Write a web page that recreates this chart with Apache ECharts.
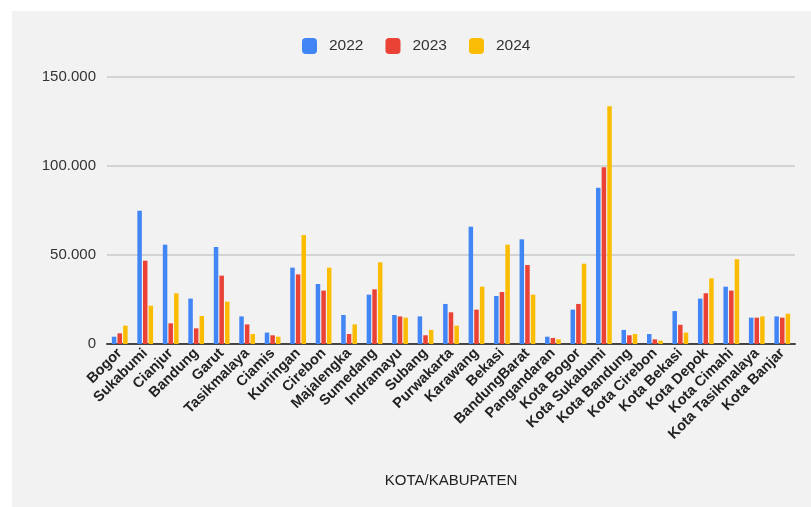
<!DOCTYPE html>
<html>
<head>
<meta charset="utf-8">
<script src="https://cdn.jsdelivr.net/npm/echarts@6/dist/echarts.min.js"></script>
<style>
  html, body { margin: 0; padding: 0; background: #fff; }
  #panel { position: absolute; left: 12px; top: 11px; width: 799px; height: 496px; background: #f2f2f2; }
  #chart { position: absolute; left: 0; top: 0; width: 811px; height: 507px; }
</style>
</head>
<body>
<div id="panel"></div>
<div id="chart"></div>
<script>
// kota / kabupaten
const categories = [
  "Bogor", "Sukabumi", "Cianjur", "Bandung", "Garut", "Tasikmalaya", "Ciamis",
  "Kuningan", "Cirebon", "Majalengka", "Sumedang", "Indramayu", "Subang",
  "Purwakarta", "Karawang", "Bekasi", "BandungBarat", "Pangandaran",
  "Kota Bogor", "Kota Sukabumi", "Kota Bandung", "Kota Cirebon", "Kota Bekasi",
  "Kota Depok", "Kota Cimahi", "Kota Tasikmalaya", "Kota Banjar"
];

const years = ["2022", "2023", "2024"];

const data2022 = [4100, 74900, 55800, 25500, 54500, 15500, 6400, 42900, 33700, 16300,
  27700, 16300, 15500, 22500, 65900, 27000, 58800, 4100, 19300, 87800, 7900, 5600,
  18500, 25500, 32200, 14800, 15500];
const data2023 = [6000, 46800, 11600, 8800, 38400, 11000, 4900, 39100, 30000, 5600,
  30700, 15500, 4900, 17800, 19300, 29200, 44400, 3400, 22500, 99300, 4900, 2600,
  10800, 28500, 30000, 14800, 14800];
const data2024 = [10300, 21500, 28500, 15700, 23800, 5600, 4100, 61200, 42900, 11000,
  45900, 14800, 7900, 10300, 32200, 55800, 27700, 2600, 45100, 133500, 5600, 1900,
  6400, 36900, 47600, 15500, 17000];

const colors = ["#4285f4", "#ea4335", "#fbbc04"];

function fmt(v) {
  return String(v).replace(/\B(?=(\d{3})+(?!\d))/g, ".");
}

const chart = echarts.init(document.getElementById("chart"));

const seriesData = [data2022, data2023, data2024];

chart.setOption({
  backgroundColor: "transparent",
  textStyle: { fontFamily: "Arial" },
  legend: {
    data: years,
    top: 33,
    left: 297,
    itemWidth: 15,
    itemHeight: 16,
    itemGap: 22,
    icon: "roundRect",
    textStyle: { fontSize: 15.5, color: "#333", padding: [0, 0, 0, 7] }
  },
  grid: { left: 107, right: 16, top: 77, bottom: 163 },
  xAxis: {
    type: "category",
    data: categories,
    name: "KOTA/KABUPATEN",
    nameLocation: "middle",
    nameGap: 129,
    nameTextStyle: { fontSize: 15, color: "#222" },
    axisTick: { show: false },
    axisLine: { lineStyle: { color: "#444", width: 2 } },
    axisLabel: {
      rotate: 45,
      interval: 0,
      fontSize: 14.5,
      fontWeight: "bold",
      color: "#222",
      margin: 7
    }
  },
  yAxis: {
    type: "value",
    min: 0,
    max: 150000,
    interval: 50000,
    axisLine: { show: false },
    axisTick: { show: false },
    splitLine: { lineStyle: { color: "#c8c8c8", width: 1.5 } },
    axisLabel: {
      fontSize: 15,
      color: "#333",
      margin: 11,
      formatter: fmt
    }
  },
  series: years.map((y, i) => ({
    name: y,
    type: "bar",
    data: seriesData[i],
    barWidth: 4.5,
    barGap: "25%",
    itemStyle: { color: colors[i] }
  }))
});
</script>
</body>
</html>
